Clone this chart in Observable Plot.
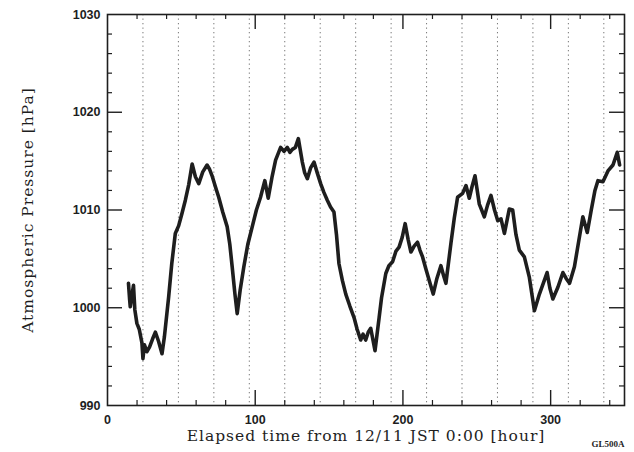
<!DOCTYPE html>
<html>
<head>
<meta charset="utf-8">
<script src="https://cdn.jsdelivr.net/npm/d3@7"></script>
<script src="https://cdn.jsdelivr.net/npm/@observablehq/plot@0.6"></script>
<style>
  html, body { margin: 0; padding: 0; background: #fff; }
</style>
</head>
<body>
<div id="chart"></div>
<script>
// Elapsed hours and pressure readings (hPa)
const hours = [
  14.2, 15.0, 15.4, 16.5, 17.6, 18.5, 19.9, 21.5, 23.3, 24.0, 25.0, 26.7, 28.5, 30.5, 32.4, 34.5, 36.9, 38.5,
  41.4, 43.5, 45.9, 48.2, 50.5, 52.7, 55.0, 57.3, 59.5, 61.8, 64.5, 67.4, 69.0, 70.8, 73.0, 75.3, 78.0,
  81.0, 82.8, 84.4, 86.2, 87.8, 89.8, 92.3, 95.0, 98.0, 100.8, 103.6, 106.5, 108.8, 111.3, 113.8, 117.2,
  119.5, 121.7, 123.5, 125.1, 127.2, 129.2, 131.9, 133.5, 135.3, 137.5, 139.8, 142.0, 144.3, 146.5, 148.8,
  151.0, 153.3, 155.0, 156.7, 159.0, 161.3, 164.0, 166.9, 169.0, 171.4, 173.0, 174.8, 176.5, 178.2, 181.1,
  183.9, 185.5, 188.4, 190.5, 193.0, 195.3, 197.4, 199.5, 201.5, 203.5, 205.4, 207.6, 209.9, 211.5, 213.3,
  215.5, 217.8, 220.5, 223.0, 225.7, 227.5, 229.1, 232.5, 234.8, 237.0, 240.4, 242.7, 244.9, 246.8, 248.8,
  251.7, 253.3, 255.1, 257.3, 259.6, 262.0, 264.2, 266.4, 268.7, 272.0, 274.3, 276.5, 278.8, 282.2, 285.6,
  287.5, 289.0, 292.4, 295.0, 297.6, 299.5, 301.5, 304.9, 308.3, 310.5, 312.8, 316.1, 319.0, 321.8, 324.8,
  327.5, 330.0, 332.0, 335.4, 338.8, 342.2, 345.1, 346.7
];
const pressure = [
  1002.5, 1000.8, 1000.1, 1001.2, 1002.3, 999.8, 998.4, 997.8, 996.4, 994.8, 996.2, 995.5, 996.0, 996.8, 997.5, 996.6, 995.3, 997.0,
  1001.1, 1004.5, 1007.6, 1008.4, 1009.7, 1011.0, 1012.6, 1014.7, 1013.4, 1012.7, 1013.9, 1014.6, 1014.2, 1013.5, 1012.4, 1011.3, 1009.8,
  1008.3, 1006.5, 1004.2, 1001.5, 999.4, 1001.8, 1004.2, 1006.5, 1008.3, 1010.0, 1011.3, 1013.0, 1011.2, 1013.3, 1015.1, 1016.4,
  1016.0, 1016.4, 1015.9, 1016.2, 1016.4, 1017.3, 1014.9, 1013.8, 1013.2, 1014.3, 1014.9, 1013.8, 1012.7, 1011.8, 1011.0,
  1010.3, 1009.8, 1007.5, 1004.5, 1002.8, 1001.4, 1000.2, 999.0, 997.8, 996.7, 997.3, 996.7, 997.5, 997.9, 995.6,
  999.0, 1001.0, 1003.5, 1004.3, 1004.7, 1005.8, 1006.2, 1007.2, 1008.6, 1007.0, 1005.7, 1006.3, 1006.7, 1005.9, 1005.2,
  1004.0, 1002.8, 1001.4, 1003.0, 1004.3, 1003.3, 1002.5, 1006.6, 1009.2, 1011.3, 1011.7, 1012.5, 1011.2, 1012.4, 1013.5,
  1010.6, 1010.0, 1009.3, 1010.5, 1011.5, 1010.0, 1008.9, 1009.1, 1007.6, 1010.1, 1010.0, 1007.5, 1005.9, 1005.2, 1003.1,
  1001.2, 999.7, 1001.4, 1002.5, 1003.6, 1002.0, 1000.9, 1002.1, 1003.6, 1003.0, 1002.5, 1004.2, 1006.8, 1009.3, 1007.7,
  1010.0, 1012.0, 1013.0, 1012.9, 1014.0, 1014.6, 1015.9, 1014.6
];

const xLabels = [0, 100, 200, 300];
const xMajor = [100, 200, 300];
const xMinor = [20, 40, 60, 80, 120, 140, 160, 180, 220, 240, 260, 280, 320, 340];
const dayLines = [24, 48, 72, 96, 120, 144, 168, 192, 216, 240, 264, 288, 312, 336];
const yLabels = [990, 1000, 1010, 1020, 1030];
const yMajor = [1000, 1010, 1020];
const yMinor = [992, 994, 996, 998, 1002, 1004, 1006, 1008, 1012, 1014, 1016, 1018, 1022, 1024, 1026, 1028];

const xTitle = "Elapsed time from 12/11 JST 0:00 [hour]";
const yTitle = "Atmospheric Pressure [hPa]";
const tag = "GL500A";

const data = hours.map((h, i) => ({h, p: pressure[i]}));

const W = 634, H = 452;
const mL = 107, mR = 10, mT = 14, mB = 47;
const pw = W - mL - mR, ph = H - mT - mB;
const majLen = 15, minLen = 5;
const ink = "#1e1e1e";
const labelFont = "'Liberation Sans', Arial, sans-serif";
const serif = "'DejaVu Serif', serif";

const chart = Plot.plot({
  width: W,
  height: H,
  marginLeft: mL,
  marginRight: mR,
  marginTop: mT,
  marginBottom: mB,
  style: {background: "#fff", color: ink},
  x: {domain: [0, 350], axis: null},
  y: {domain: [990, 1030], axis: null},
  marks: [
    Plot.ruleX(dayLines, {x: d => d, stroke: "#777", strokeWidth: 1, strokeDasharray: "1.3,3.2"}),
    Plot.line(data, {x: "h", y: "p", stroke: ink, strokeWidth: 3.6, strokeLinejoin: "round", strokeLinecap: "round"}),
    // ticks (inward, on all four sides)
    Plot.ruleX(xMajor, {x: d => d, insetTop: ph - majLen, stroke: ink, strokeWidth: 1.4}),
    Plot.ruleX(xMajor, {x: d => d, insetBottom: ph - majLen, stroke: ink, strokeWidth: 1.4}),
    Plot.ruleX(xMinor, {x: d => d, insetTop: ph - minLen, stroke: ink, strokeWidth: 1.2}),
    Plot.ruleX(xMinor, {x: d => d, insetBottom: ph - minLen, stroke: ink, strokeWidth: 1.2}),
    Plot.ruleY(yMajor, {y: d => d, insetRight: pw - majLen, stroke: ink, strokeWidth: 1.4}),
    Plot.ruleY(yMajor, {y: d => d, insetLeft: pw - majLen, stroke: ink, strokeWidth: 1.4}),
    Plot.ruleY(yMinor, {y: d => d, insetRight: pw - minLen, stroke: ink, strokeWidth: 1.2}),
    Plot.ruleY(yMinor, {y: d => d, insetLeft: pw - minLen, stroke: ink, strokeWidth: 1.2}),
    Plot.frame({stroke: ink, strokeWidth: 1.6}),
    Plot.axisX({ticks: xLabels, tickSize: 0, tickPadding: 10, label: null, fontSize: 12.5, fontWeight: "bold", fontFamily: labelFont, tickFormat: d => String(d)}),
    Plot.axisY({ticks: yLabels, tickSize: 0, tickPadding: 7, label: null, fontSize: 12.5, fontWeight: "bold", fontFamily: labelFont, tickFormat: d => String(d)}),
    Plot.text([xTitle], {text: d => d, frameAnchor: "bottom", textAnchor: "middle", dy: 35, fontFamily: serif, fontSize: 15.5, fill: ink}),
    Plot.text([yTitle], {text: d => d, frameAnchor: "left", textAnchor: "middle", dx: -79, rotate: -90, fontFamily: serif, fontSize: 15.5, fill: ink}),
    Plot.text([tag], {text: d => d, frameAnchor: "bottom-right", dy: 41, textAnchor: "end", fontFamily: "'Liberation Serif', serif", fontWeight: "bold", fontSize: 9, fill: ink})
  ]
});
d3.select(chart).selectAll("text")
  .filter(function () { return this.textContent === xTitle || this.textContent === yTitle; })
  .attr("letter-spacing", "1px");
document.getElementById("chart").appendChild(chart);
</script>
</body>
</html>
